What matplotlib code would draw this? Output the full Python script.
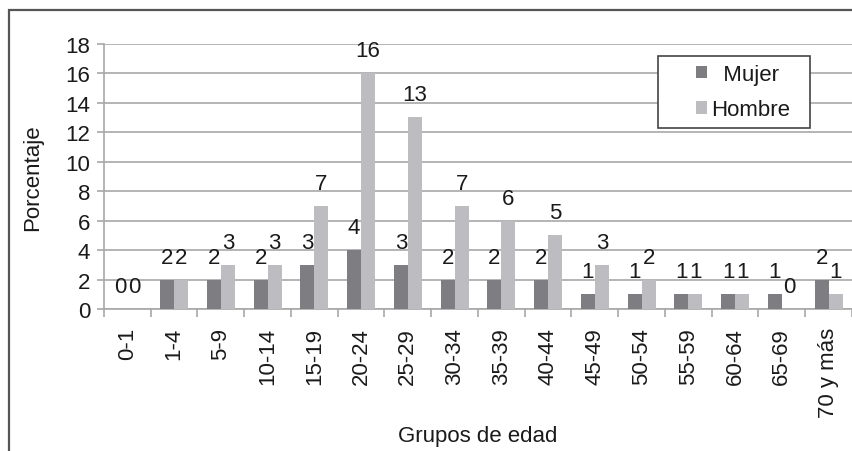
import numpy as np
import matplotlib.pyplot as plt
from matplotlib.patches import Rectangle

plt.rcParams['font.family'] = ['Liberation Sans', 'DejaVu Sans']

grupos = ['0-1', '1-4', '5-9', '10-14', '15-19', '20-24', '25-29', '30-34',
          '35-39', '40-44', '45-49', '50-54', '55-59', '60-64', '65-69', '70 y más']
mujer = [0, 2, 2, 2, 3, 4, 3, 2, 2, 2, 1, 1, 1, 1, 1, 2]
hombre = [0, 2, 3, 3, 7, 16, 13, 7, 6, 5, 3, 2, 1, 1, 0, 1]
yticks = [0, 2, 4, 6, 8, 10, 12, 14, 16, 18]

c_mujer = '#7d7d82'
c_hombre = '#bdbdc1'
grid_c = '#a8a8a8'
txt_c = '#1a1a1a'
fs = 16

fig = plt.figure(figsize=(8.53, 4.52), dpi=100)
ax = fig.add_axes([0.1219, 0.3142, 0.8769, 0.5869])

x = np.arange(len(grupos))
w = 0.30
b1 = ax.bar(x - w / 2, mujer, w, color=c_mujer, label='  Mujer', zorder=3)
b2 = ax.bar(x + w / 2, hombre, w, color=c_hombre, label='Hombre', zorder=3)

for bars, vals in ((b1, mujer), (b2, hombre)):
    for r, v in zip(bars, vals):
        ax.annotate(str(v), (r.get_x() + r.get_width() / 2, v),
                    xytext=(0, 12), textcoords='offset pixels',
                    ha='center', va='bottom', fontsize=fs, color=txt_c)

ax.set_xlim(-0.5, len(grupos) - 0.5)
ax.set_ylim(0, 18)
ax.set_yticks(yticks)
ax.yaxis.grid(True, color=grid_c, lw=1.2, zorder=0)
ax.tick_params(axis='y', labelsize=fs, length=5, color=grid_c, width=1.2,
               labelcolor=txt_c, pad=5)

# category boundary ticks
ax.set_xticks(np.arange(-0.5, len(grupos), 1.0))
ax.set_xticklabels([])
ax.set_xticks(x, minor=True)
ax.set_xticklabels(grupos, minor=True, rotation=90, fontsize=fs, color=txt_c)
ax.tick_params(axis='x', which='major', length=6, color=grid_c, width=1.2)
ax.tick_params(axis='x', which='minor', length=0, pad=13)

for s in ('top', 'right'):
    ax.spines[s].set_visible(False)
for s in ('left', 'bottom'):
    ax.spines[s].set_color(grid_c)
    ax.spines[s].set_linewidth(1.2)

ax.set_ylabel('Porcentaje', fontsize=fs, color=txt_c, labelpad=16)
fig.text(478 / 853, 1 - 437 / 452, 'Grupos de edad', fontsize=fs, color=txt_c,
         ha='center', va='center')

# legend: frame drawn separately, entries without frame
ax.add_patch(Rectangle((0.7406, 0.6822), 0.2032, 0.2714, transform=ax.transAxes,
                       facecolor='white', edgecolor='#444444', lw=1.2,
                       zorder=5, clip_on=False))
leg = ax.legend(loc='center left', bbox_to_anchor=(0.7914, 0.817), fontsize=fs,
                frameon=False, handlelength=0.5, handleheight=0.5,
                handletextpad=0.18, borderpad=0, labelspacing=0.65,
                borderaxespad=0)
leg.set_zorder(6)
for t in leg.get_texts():
    t.set_color(txt_c)

# outer chart frame (cropped at right and bottom)
fig.patches.append(Rectangle((9 / 853, -0.1), 1.2, 1 - 11 / 452 + 0.1,
                             transform=fig.transFigure, fill=False,
                             edgecolor='#555555', lw=1.6, zorder=0))

fig.savefig('out.png', dpi=100)
